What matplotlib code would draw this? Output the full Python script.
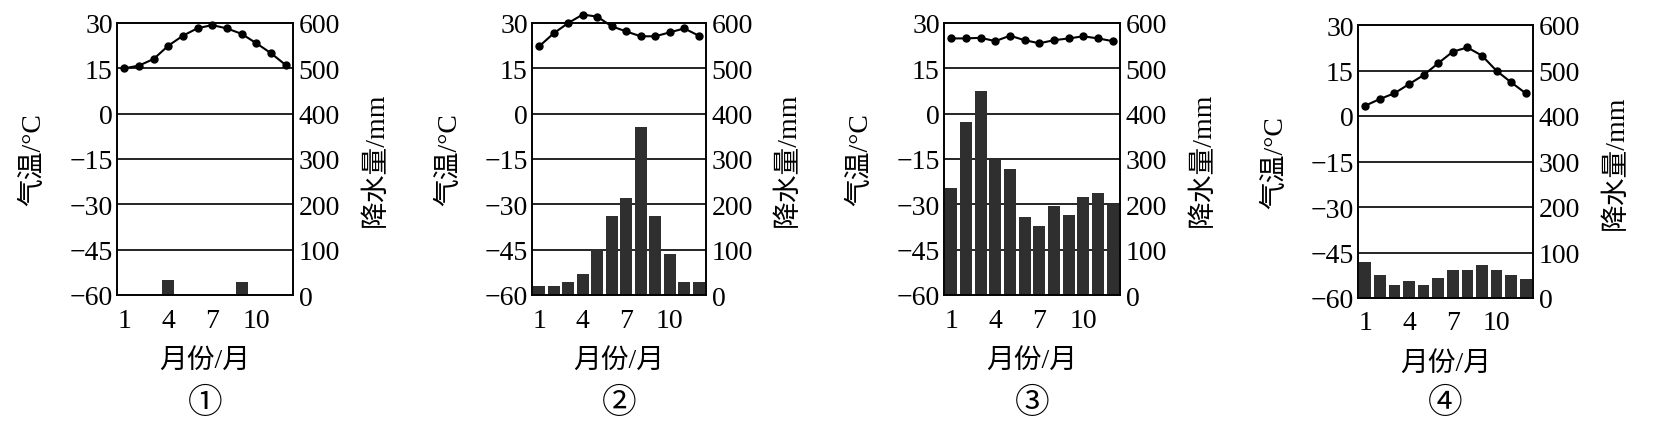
import matplotlib
matplotlib.use("Agg")
import matplotlib.pyplot as plt

plt.rcParams['font.family'] = ['Liberation Serif', 'Noto Sans CJK SC']

months = list(range(1, 13))
xtick_months = [1, 4, 7, 10]
temp_ticks = [-60, -45, -30, -15, 0, 15, 30]
temp_labels = ["−60", "−45", "−30", "−15", "0", "15", "30"]
rain_ticks = [0, 100, 200, 300, 400, 500, 600]
panel_names = ["①", "②", "③", "④"]

# temperature (°C) per month
temp_1 = [15.0, 15.9, 18.1, 22.5, 25.8, 28.3, 29.3, 28.2, 26.4, 23.3, 20.0, 16.1]
temp_2 = [22.3, 26.6, 30.0, 32.8, 32.1, 28.9, 27.2, 25.6, 25.6, 26.9, 28.2, 25.8]
temp_3 = [24.9, 24.9, 25.1, 24.0, 25.8, 24.3, 23.3, 24.3, 24.9, 25.6, 24.9, 24.0]
temp_4 = [3.4, 5.6, 7.5, 10.5, 13.5, 17.4, 21.2, 22.6, 19.9, 14.9, 11.1, 7.5]

# precipitation (mm) per month
rain_1 = [0, 0, 0, 33, 0, 0, 0, 0, 29, 0, 0, 0]
rain_2 = [20, 20, 29, 46, 101, 175, 215, 370, 175, 90, 29, 29]
rain_3 = [235, 381, 449, 298, 278, 173, 153, 196, 177, 216, 226, 198]
rain_4 = [80, 51, 29, 37, 29, 43, 62, 62, 73, 61, 51, 42]

temps = [temp_1, temp_2, temp_3, temp_4]
rains = [rain_1, rain_2, rain_3, rain_4]

W, H = 1654, 427
# axes boxes in pixels: left, top, right, bottom
boxes = [(117, 24, 293, 296), (532, 24, 706, 296),
         (944, 24, 1120, 296), (1358, 26, 1533, 299)]

fig = plt.figure(figsize=(W / 100, H / 100), dpi=100)

for i in range(4):
    l, t, r, b = boxes[i]
    ax = fig.add_axes([l / W, 1 - b / H, (r - l) / W, (b - t) / H])
    ax2 = ax.twinx()

    ax2.bar(months, rains[i], width=0.8, color='#2f2f2f', zorder=2)
    ax2.set_ylim(0, 600)
    ax2.set_yticks(rain_ticks)
    ax2.set_yticklabels([str(v) for v in rain_ticks])
    for v in rain_ticks[1:-1]:
        ax2.axhline(v, color='black', lw=1.2, zorder=1)

    ax.set_zorder(ax2.get_zorder() + 1)
    ax.patch.set_visible(False)
    ax.plot(months, temps[i], color='black', lw=1.5, marker='o', ms=5,
            clip_on=False, zorder=5)
    ax.set_ylim(-60, 30)
    ax.set_xlim(0.5, 12.5)
    ax.set_yticks(temp_ticks)
    ax.set_yticklabels(temp_labels)
    ax.set_xticks(xtick_months)
    ax.set_xticklabels([str(m) for m in xtick_months])

    for a in (ax, ax2):
        a.tick_params(length=0, labelsize=20)
        for s in a.spines.values():
            s.set_linewidth(1.2)
    ax.tick_params(axis='y', pad=3)
    ax.tick_params(axis='x', pad=9)
    ax2.tick_params(axis='y', pad=4)

    ax.set_ylabel("气温/°C", fontsize=20)
    ax.yaxis.set_label_coords(-0.40, 0.5)
    ax2.set_ylabel("降水量/mm", fontsize=20, rotation=90)
    ax2.yaxis.set_label_coords(1.40, 0.5)
    ax.set_xlabel("月份/月", fontsize=20)
    ax.xaxis.set_label_coords(0.5, -0.195)

    # panel number under each chart
    fig.text((l + r) / 2 / W, 1 - 404 / H, panel_names[i],
             ha='center', va='center', fontsize=25,
             family=['Noto Sans CJK SC', 'DejaVu Sans'])

fig.savefig("out.png", dpi=100)
plt.close(fig)
